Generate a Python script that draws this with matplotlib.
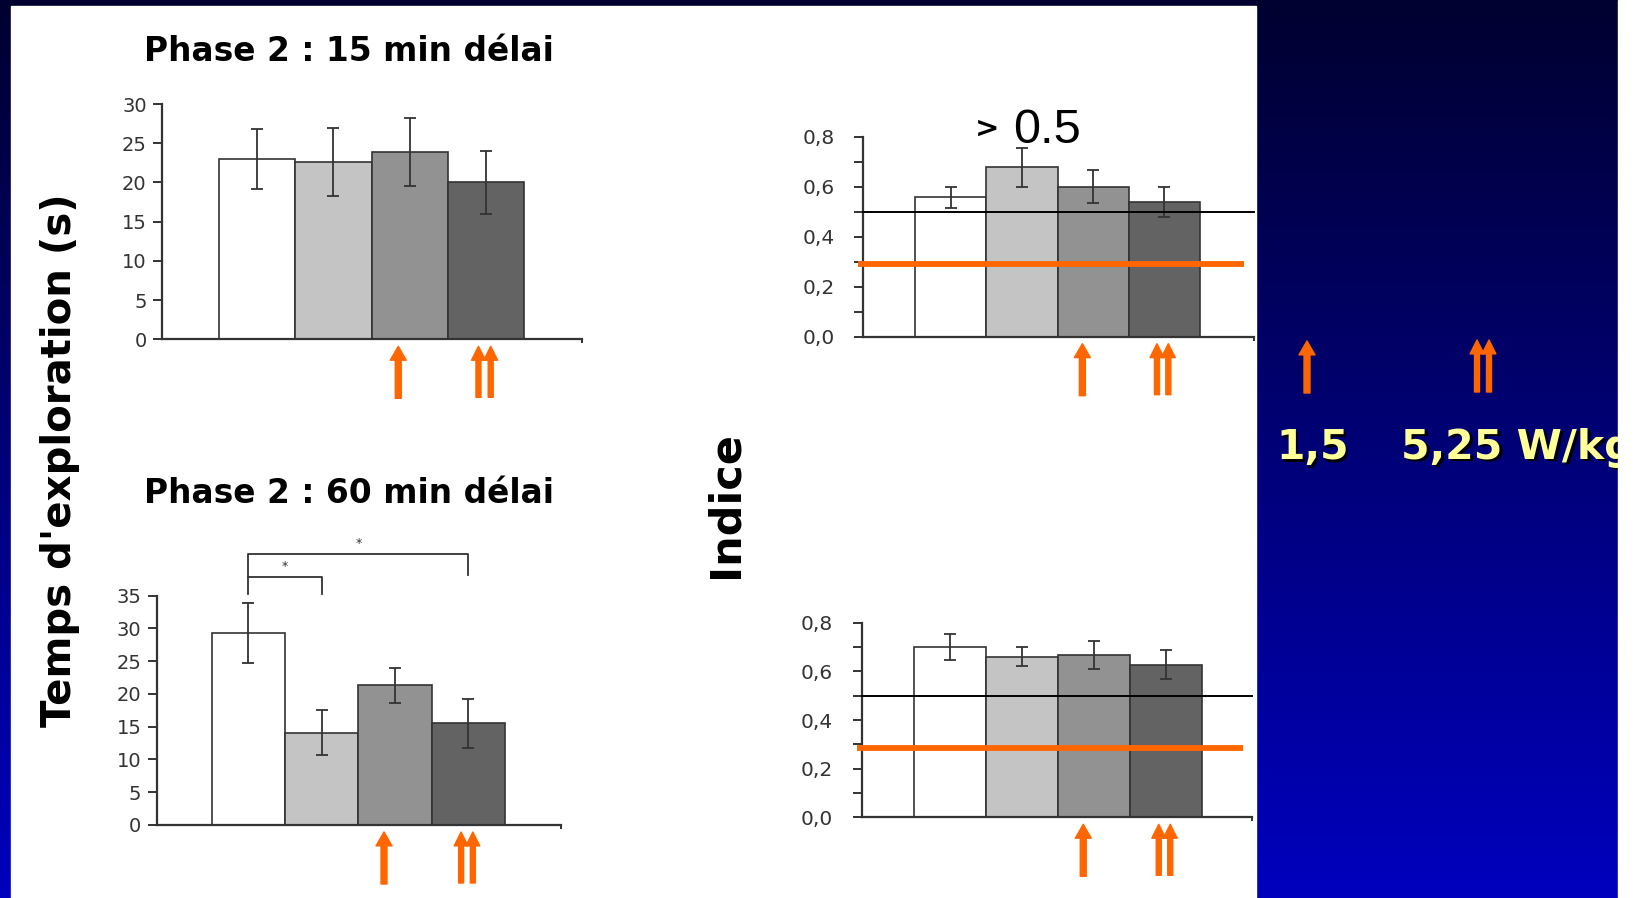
import matplotlib
matplotlib.use("Agg")
import matplotlib.pyplot as plt
import numpy as np
from matplotlib.patches import Rectangle
from matplotlib.transforms import blended_transform_factory

# ---- data ----
bar_colors = ["#ffffff", "#c4c4c4", "#929292", "#636363"]

explo_15 = [23.0, 22.6, 23.9, 20.0]
explo_15_err = [3.8, 4.3, 4.3, 4.0]
explo_60 = [29.3, 14.1, 21.3, 15.5]
explo_60_err = [4.6, 3.4, 2.7, 3.7]

indice_15 = [0.557, 0.677, 0.600, 0.537]
indice_15_err = [0.042, 0.078, 0.066, 0.060]
indice_60 = [0.700, 0.661, 0.667, 0.628]
indice_60_err = [0.052, 0.038, 0.058, 0.059]

explo_15_ticks = [0, 5, 10, 15, 20, 25, 30]
explo_60_ticks = [0, 5, 10, 15, 20, 25, 30, 35]
indice_ticks = [0.0, 0.1, 0.2, 0.3, 0.4, 0.5, 0.6, 0.7, 0.8]
indice_labels = ["0,0", "", "0,2", "", "0,4", "", "0,6", "", "0,8"]

chance_level = 0.5
orange_levels = [0.29, 0.286]
sig_pairs = [(0, 1), (0, 3)]
sig_heights = [(35.3, 37.8, 35.3), (37.8, 41.3, 38.1)]
dose_labels = ["1,5", "5,25 W/kg"]

W, H = 1638, 898
ORANGE = "#ff6600"
DARK = "#333333"
COMIC = "DejaVu Sans"

fig = plt.figure(figsize=(W / 100, H / 100), dpi=100)

# background: blue gradient, white panel
bg = fig.add_axes([0, 0, 1, 1])
bg.set_xlim(0, W)
bg.set_ylim(H, 0)
bg.axis("off")
grad = np.zeros((256, 1, 3))
grad[:, 0, 2] = np.linspace(48, 190, 256) / 255
bg.imshow(grad, extent=[0, W, H, 0], aspect="auto", zorder=0)
bg.add_patch(Rectangle((11, 6), 1245, 892, color="white", zorder=1))


def box(x0, y0, x1, y1):
    return [x0 / W, 1 - y1 / H, (x1 - x0) / W, (y1 - y0) / H]


def up_arrow(trans, x, y_top, y_bot, shaft=4.3, head=11.5, hlen=10):
    bg.annotate("", xy=(x, y_top), xytext=(x, y_bot), xycoords=trans, textcoords=trans,
                arrowprops=dict(width=shaft, headwidth=head, headlength=hlen,
                                color=ORANGE, shrink=0),
                annotation_clip=False, zorder=6)


def bar_panel(pix, xlim, ylim, vals, errs, ticks, labels, pad, size):
    ax = fig.add_axes(box(*pix))
    ax.patch.set_visible(False)
    x = np.arange(len(vals))
    ax.bar(x, vals, width=1.0, color=bar_colors, edgecolor=DARK, linewidth=1.2, zorder=2)
    ax.errorbar(x, vals, yerr=errs, fmt="none", ecolor=DARK, elinewidth=1.3,
                capsize=4, capthick=1.3, zorder=3)
    ax.set_xlim(*xlim)
    ax.set_ylim(*ylim)
    ax.set_yticks(ticks)
    ax.set_yticklabels(labels)
    ax.set_xticks([xlim[1]])
    ax.set_xticklabels([])
    for s in ["top", "right"]:
        ax.spines[s].set_visible(False)
    for s in ["left", "bottom"]:
        ax.spines[s].set_color(DARK)
        ax.spines[s].set_linewidth(1.6)
    ax.tick_params(axis="y", length=6.5, width=1.4, color=DARK, labelcolor=DARK,
                   labelsize=size, pad=pad)
    ax.tick_params(axis="x", length=3, width=1.4, color=DARK)
    # dose arrows under bars 3 and 4
    trans = blended_transform_factory(ax.transData, bg.transData)
    ybase = pix[3]
    up_arrow(trans, 1.85, ybase + 7, ybase + 59)
    up_arrow(trans, 2.9, ybase + 7, ybase + 58, shaft=3.6, head=10)
    up_arrow(trans, 3.06, ybase + 7, ybase + 58, shaft=3.6, head=10)
    return ax


ax1 = bar_panel((162, 104, 582, 339.3), (-1.242, 4.255), (0, 30), explo_15, explo_15_err,
                explo_15_ticks, [str(t) for t in explo_15_ticks], 4.5, 14)
ax2 = bar_panel((157.4, 595.7, 560.7, 825), (-1.237, 4.257), (0, 35), explo_60, explo_60_err,
                explo_60_ticks, [str(t) for t in explo_60_ticks], 5, 14)
ax3 = bar_panel((862.5, 136.7, 1254, 336.7), (-1.245, 4.266), (0, 0.8), indice_15, indice_15_err,
                indice_ticks, indice_labels, 13.5, 14.5)
ax4 = bar_panel((861.8, 622.7, 1252, 817.3), (-1.23, 4.197), (0, 0.8), indice_60, indice_60_err,
                indice_ticks, indice_labels, 14.5, 14.5)

# chance line and orange line on index panels
for ax, lvl, xr in [(ax3, orange_levels[0], (-1.315, 4.119)), (ax4, orange_levels[1], (-1.297, 4.07))]:
    ax.axhline(chance_level, color="black", linewidth=1.4, zorder=4, clip_on=False)
    ax.plot(xr, [lvl, lvl], color=ORANGE, linewidth=4.2, solid_capstyle="butt",
            zorder=5, clip_on=False)

# significance brackets, 60 min panel
for (a, b), (ya, ytop, yb) in zip(sig_pairs, sig_heights):
    ax2.plot([a, a, b, b], [ya, ytop, ytop, yb], color=DARK, linewidth=1.3, clip_on=False)
    ax2.text((a + b) / 2, ytop + 0.6, "*", ha="center", va="bottom", fontsize=9, color=DARK)

# titles and axis labels
bg.text(349, 61, "Phase 2 : 15 min délai", ha="center", va="baseline", fontsize=23.7,
        fontweight="bold", family=COMIC, color="black", zorder=6)
bg.text(349, 503, "Phase 2 : 60 min délai", ha="center", va="baseline", fontsize=23.7,
        fontweight="bold", family=COMIC, color="black", zorder=6)
bg.text(60, 460, "Temps d'exploration (s)", rotation=90, ha="center", va="center",
        fontsize=29, fontweight="bold", family=COMIC, color="black", zorder=6)
bg.text(726, 504, "Indice", rotation=90, ha="center", va="center",
        fontsize=31, fontweight="bold", family=COMIC, color="black", zorder=6)
bg.text(999, 137, ">", ha="right", va="baseline", fontsize=21, fontweight="bold",
        family=COMIC, color="black", zorder=6)
bg.text(1013, 143, "0.5", ha="left", va="baseline", fontsize=35,
        family="Liberation Sans", color="black", zorder=6)

# dose legend on the blue side
up_arrow(bg.transData, 1307, 341, 393)
up_arrow(bg.transData, 1477, 340, 392, shaft=3.6, head=10)
up_arrow(bg.transData, 1489, 340, 392, shaft=3.6, head=10)
for xl, txt in zip([1276, 1401], dose_labels):
    bg.text(xl + 2.5, 461.5, txt, ha="left", va="baseline", fontsize=29.5, fontweight="bold",
            family=COMIC, color="black", zorder=6)
    bg.text(xl, 459, txt, ha="left", va="baseline", fontsize=29.5, fontweight="bold",
            family=COMIC, color="#ffff99", zorder=7)

bg.add_patch(Rectangle((1618, 0), 20, H, color="white", zorder=9))

fig.savefig("out.png", dpi=100)
